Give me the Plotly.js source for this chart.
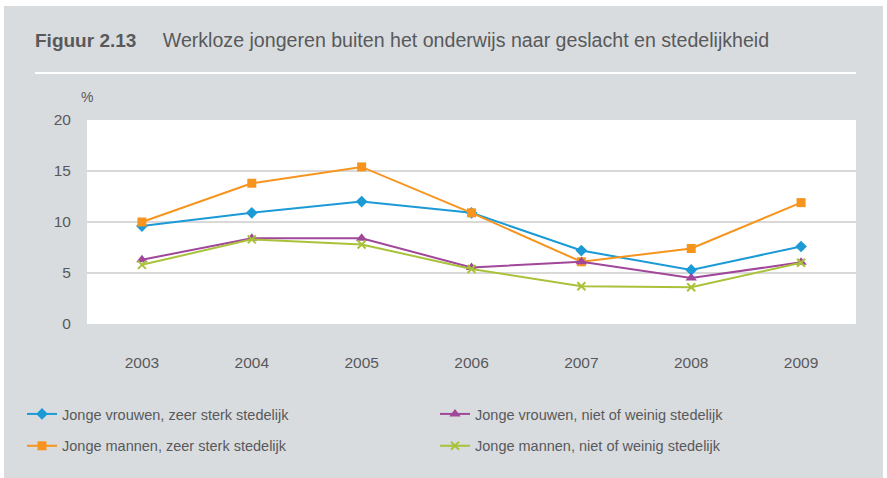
<!DOCTYPE html>
<html>
<head>
<meta charset="utf-8">
<script src="https://cdn.plot.ly/plotly-3.0.1.min.js"></script>
<style>html,body{margin:0;padding:0;background:#fff;}#chart{width:887px;height:478px;}</style>
</head>
<body>
<div id="chart"></div>
<script>
const years = [2003, 2004, 2005, 2006, 2007, 2008, 2009];
const vrouwenSterk = [9.6, 10.9, 12.0, 10.9, 7.2, 5.3, 7.6];
const mannenSterk = [10.0, 13.8, 15.4, 10.9, 6.1, 7.4, 11.9];
const vrouwenWeinig = [6.3, 8.4, 8.4, 5.55, 6.1, 4.5, 6.05];
const mannenWeinig = [5.8, 8.3, 7.8, 5.4, 3.7, 3.6, 6.0];
const seriesNames = [
  'Jonge vrouwen, zeer sterk stedelijk',
  'Jonge mannen, zeer sterk stedelijk',
  'Jonge vrouwen, niet of weinig stedelijk',
  'Jonge mannen, niet of weinig stedelijk'
];
const yTicks = [0, 5, 10, 15, 20];

const FONT = '"Liberation Sans Narrow", "Arial Narrow", "Liberation Sans", Arial, sans-serif';
const TXT = '#58595b';

function tr(y, name, color, symbol, size, legend, group, lw) {
  return {
    x: years, y: y, name: name, type: 'scatter', mode: 'lines+markers',
    line: {color: color, width: 2},
    marker: {color: color, symbol: symbol, size: size, line: {color: color, width: lw || 0}},
    legend: legend, legendgroup: group
  };
}

const data = [
  tr(vrouwenSterk, seriesNames[0], '#1b9ad6', 'diamond', 9, 'legend', 'a'),
  tr(mannenSterk, seriesNames[1], '#f7941d', 'square', 9, 'legend', 'b'),
  tr(vrouwenWeinig, seriesNames[2], '#a0479a', 'triangle-up', 10, 'legend2', 'c'),
  tr(mannenWeinig, seriesNames[3], '#a9c23a', 'x-thin-open', 8, 'legend2', 'd', 2)
];

const layout = {
  width: 887, height: 478,
  paper_bgcolor: '#d9dcdf', plot_bgcolor: '#ffffff',
  margin: {l: 87, r: 31, t: 120, b: 154},
  font: {family: FONT, color: TXT, size: 15},
  showlegend: true,
  title: {
    text: '<b>Figuur 2.13</b>     <span style="font-size:19.6px">Werkloze jongeren buiten het onderwijs naar geslacht en stedelijkheid</span>',
    font: {family: FONT, size: 19, color: TXT},
    x: 35/887, xanchor: 'left', xref: 'container',
    y: 1 - 40/478, yanchor: 'middle', yref: 'container'
  },
  xaxis: {
    range: [2002.5, 2009.5], tickvals: years, ticktext: years.map(String),
    showgrid: false, zeroline: false, showline: false,
    ticks: 'outside', ticklen: 24, tickcolor: 'rgba(0,0,0,0)',
    tickfont: {family: FONT, size: 15.5, color: TXT}
  },
  yaxis: {
    range: [0, 20], tickvals: yTicks,
    showgrid: true, gridcolor: '#d9d9d9', gridwidth: 1.5, zeroline: false, showline: false,
    ticks: 'outside', ticklen: 12, tickcolor: 'rgba(0,0,0,0)',
    tickfont: {family: FONT, size: 15.5, color: TXT}
  },
  legend: {
    orientation: 'v', x: (22-87)/769, xanchor: 'left', y: (324-398)/204, yanchor: 'top',
    bgcolor: 'rgba(0,0,0,0)', tracegroupgap: 10,
    font: {family: FONT, size: 14.5, color: TXT}
  },
  legend2: {
    orientation: 'v', x: (435-87)/769, xanchor: 'left', y: (324-398)/204, yanchor: 'top',
    bgcolor: 'rgba(0,0,0,0)', tracegroupgap: 10,
    font: {family: FONT, size: 14.5, color: TXT}
  },
  annotations: [{
    text: '%', xref: 'paper', yref: 'paper', x: 0, y: (324-97)/204,
    xanchor: 'center', yanchor: 'middle', showarrow: false,
    font: {family: FONT, size: 14, color: TXT}
  }],
  shapes: [
    {type: 'rect', xref: 'paper', yref: 'paper', x0: -87/769, x1: (887-87)/769, y0: 324/204, y1: (324-6)/204, fillcolor: '#ffffff', line: {width: 0}},
    {type: 'rect', xref: 'paper', yref: 'paper', x0: -87/769, x1: (4-87)/769, y0: -154/204, y1: 324/204, fillcolor: '#ffffff', line: {width: 0}},
    {type: 'rect', xref: 'paper', yref: 'paper', x0: (883-87)/769, x1: (887-87)/769, y0: -154/204, y1: 324/204, fillcolor: '#ffffff', line: {width: 0}},
    {type: 'line', xref: 'paper', yref: 'paper', x0: (35-87)/769, x1: (856-87)/769, y0: (324-73)/204, y1: (324-73)/204, line: {color: '#ffffff', width: 2}}
  ]
};

Plotly.newPlot('chart', data, layout, {displayModeBar: false, staticPlot: true});
</script>
</body>
</html>
